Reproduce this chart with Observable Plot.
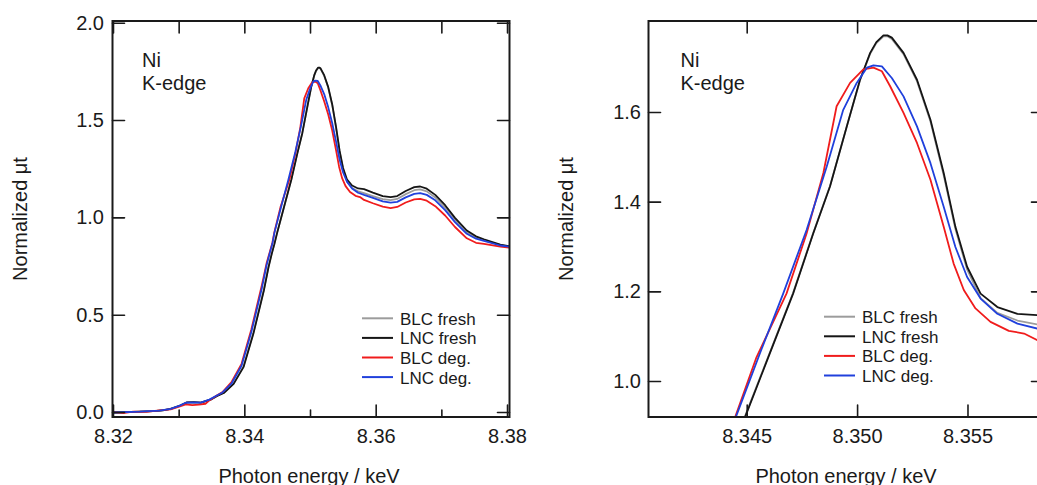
<!DOCTYPE html>
<html><head><meta charset="utf-8">
<script src="https://cdn.jsdelivr.net/npm/d3@7"></script>
<script src="https://cdn.jsdelivr.net/npm/@observablehq/plot@0.6"></script>
<style>
html,body{margin:0;padding:0;background:#fff;overflow:hidden;}
#wrap{position:relative;width:1037px;height:485px;overflow:hidden;}
#wrap svg{position:absolute;top:0;}
</style></head><body><div id="wrap"></div>
<script>
// ---------- data ----------
const seriesNames = ["BLC fresh", "LNC fresh", "BLC deg.", "LNC deg."];
const seriesColors = ["#9c9c9c", "#151515", "#f01c1c", "#2040dc"];

const lncFreshE = [8.3200, 8.3220, 8.3240, 8.3260, 8.3275, 8.3287, 8.3302, 8.3312, 8.3322, 8.3333, 8.3348, 8.3358, 8.3368, 8.3383, 8.3398, 8.3413, 8.3429, 8.3436, 8.3441, 8.3445, 8.34493, 8.34602, 8.34708, 8.34799, 8.34875, 8.34951, 8.35011, 8.35057, 8.35085, 8.35117, 8.35135, 8.35155, 8.35208, 8.35269, 8.3533, 8.3539, 8.35443, 8.35496, 8.35557, 8.35633, 8.35724, 8.35815, 8.3595, 8.3610, 8.3622, 8.3632, 8.3645, 8.3658, 8.3667, 8.3677, 8.3690, 8.3705, 8.3720, 8.3738, 8.3752, 8.3764, 8.3789, 8.3803];
const lncFreshMu = [0.000, 0.002, 0.004, 0.007, 0.011, 0.019, 0.036, 0.052, 0.053, 0.051, 0.066, 0.085, 0.100, 0.147, 0.233, 0.404, 0.627, 0.745, 0.815, 0.865, 0.924, 1.062, 1.196, 1.330, 1.435, 1.569, 1.673, 1.733, 1.757, 1.772, 1.772, 1.767, 1.733, 1.673, 1.584, 1.465, 1.345, 1.256, 1.196, 1.166, 1.151, 1.148, 1.130, 1.112, 1.106, 1.112, 1.138, 1.158, 1.161, 1.150, 1.118, 1.065, 1.000, 0.935, 0.905, 0.890, 0.862, 0.854];

const blcFreshE = [8.3200, 8.3220, 8.3240, 8.3260, 8.3275, 8.3287, 8.3302, 8.3312, 8.3322, 8.3333, 8.3348, 8.3358, 8.3368, 8.3383, 8.3398, 8.3413, 8.3429, 8.3436, 8.3441, 8.3445, 8.34493, 8.34602, 8.34708, 8.34799, 8.34875, 8.34951, 8.35011, 8.35057, 8.35085, 8.35117, 8.35135, 8.35155, 8.35208, 8.35269, 8.3533, 8.3539, 8.35443, 8.35496, 8.35557, 8.35633, 8.35724, 8.35815, 8.3595, 8.3610, 8.3622, 8.3632, 8.3645, 8.3658, 8.3667, 8.3677, 8.3690, 8.3705, 8.3720, 8.3738, 8.3752, 8.3764, 8.3789, 8.3803];
const blcFreshMu = [0.000, 0.002, 0.004, 0.007, 0.011, 0.019, 0.037, 0.052, 0.053, 0.051, 0.067, 0.087, 0.102, 0.150, 0.237, 0.410, 0.632, 0.750, 0.818, 0.867, 0.926, 1.064, 1.198, 1.331, 1.436, 1.569, 1.672, 1.731, 1.755, 1.770, 1.770, 1.764, 1.730, 1.670, 1.580, 1.460, 1.340, 1.250, 1.186, 1.153, 1.136, 1.127, 1.112, 1.096, 1.091, 1.097, 1.122, 1.142, 1.146, 1.136, 1.105, 1.053, 0.990, 0.926, 0.898, 0.885, 0.860, 0.853];

const blcDegE = [8.3200, 8.3215, 8.3230, 8.3250, 8.3270, 8.3287, 8.3300, 8.3310, 8.3320, 8.3330, 8.3340, 8.3346, 8.3356, 8.3366, 8.3380, 8.3395, 8.3410, 8.3426, 8.3433, 8.3438, 8.3442, 8.34448, 8.34542, 8.34678, 8.34769, 8.34845, 8.34905, 8.34966, 8.35026, 8.35072, 8.3511, 8.35148, 8.35208, 8.35269, 8.3533, 8.3539, 8.35435, 8.35481, 8.35534, 8.35602, 8.35685, 8.35754, 8.35815, 8.3595, 8.3610, 8.3622, 8.3632, 8.3645, 8.3658, 8.3667, 8.3677, 8.3690, 8.3705, 8.3720, 8.3738, 8.3752, 8.3764, 8.3789, 8.3803];
const blcDegMu = [0.002, -0.003, 0.005, 0.003, 0.011, 0.016, 0.030, 0.042, 0.038, 0.040, 0.045, 0.062, 0.085, 0.105, 0.158, 0.250, 0.428, 0.655, 0.765, 0.825, 0.872, 0.924, 1.054, 1.196, 1.330, 1.465, 1.614, 1.666, 1.696, 1.700, 1.692, 1.658, 1.599, 1.532, 1.450, 1.345, 1.263, 1.204, 1.163, 1.133, 1.113, 1.107, 1.092, 1.075, 1.058, 1.050, 1.056, 1.079, 1.095, 1.098, 1.088, 1.060, 1.012, 0.953, 0.895, 0.872, 0.866, 0.852, 0.847];

const lncDegE = [8.3200, 8.3240, 8.3270, 8.3287, 8.3300, 8.3310, 8.3322, 8.3333, 8.3346, 8.3356, 8.3366, 8.3380, 8.3395, 8.3410, 8.3426, 8.3433, 8.3438, 8.3442, 8.34451, 8.34557, 8.34663, 8.34769, 8.3486, 8.34935, 8.34996, 8.35042, 8.35072, 8.3511, 8.35155, 8.35208, 8.35269, 8.3533, 8.3539, 8.35443, 8.35496, 8.35557, 8.35633, 8.35724, 8.35815, 8.3595, 8.3610, 8.3622, 8.3632, 8.3645, 8.3658, 8.3667, 8.3677, 8.3690, 8.3705, 8.3720, 8.3738, 8.3752, 8.3764, 8.3789, 8.3803];
const lncDegMu = [0.000, 0.004, 0.010, 0.019, 0.034, 0.050, 0.052, 0.051, 0.066, 0.085, 0.103, 0.150, 0.240, 0.415, 0.640, 0.755, 0.820, 0.868, 0.924, 1.062, 1.196, 1.338, 1.479, 1.606, 1.666, 1.700, 1.705, 1.703, 1.677, 1.636, 1.569, 1.487, 1.390, 1.300, 1.233, 1.185, 1.151, 1.129, 1.118, 1.103, 1.085, 1.078, 1.082, 1.105, 1.123, 1.127, 1.118, 1.090, 1.040, 0.978, 0.918, 0.893, 0.882, 0.858, 0.852];

// axis ticks
const leftXMajor = [8.32, 8.34, 8.36, 8.38];
const leftXMinor = [8.33, 8.35, 8.37];
const leftXTop = [8.32, 8.33, 8.34, 8.35, 8.36, 8.37, 8.38];
const leftYTicks = [0, 0.5, 1.0, 1.5, 2.0];
const rightXTicks = [8.345, 8.350, 8.355];
const rightYTicks = [1.0, 1.2, 1.4, 1.6];

const annotation = "Ni\nK-edge";
const xTitle = "Photon energy / keV";
const yTitle = "Normalized μt";

// ---------- build table ----------
const seriesData = [
  [seriesNames[0], blcFreshE, blcFreshMu],
  [seriesNames[1], lncFreshE, lncFreshMu],
  [seriesNames[2], blcDegE, blcDegMu],
  [seriesNames[3], lncDegE, lncDegMu]
];
const rows = seriesData.flatMap(([series, E, M]) => E.map((e, i) => ({series, E: e, mu: M[i]})));

const FONT = "'Liberation Sans', Arial, Helvetica, sans-serif";
const INK = "#1a1a1a";

// inward tick shapes (drawn from the frame edge into the plot)
const tickUp = {draw(c, l) { c.moveTo(0, 0); c.lineTo(0, -l); }};
const tickDown = {draw(c, l) { c.moveTo(0, 0); c.lineTo(0, l); }};
const tickRight = {draw(c, l) { c.moveTo(0, 0); c.lineTo(l, 0); }};
const tickLeft = {draw(c, l) { c.moveTo(0, 0); c.lineTo(-l, 0); }};
const tickStyle = {stroke: INK, strokeWidth: 1.6, anchor: "start", rotate: 0};

function panel(o) {
  const st = {fill: INK, fontSize: 20, label: null};
  return Plot.plot({
    width: o.width, height: 485,
    marginLeft: o.marginLeft, marginRight: o.marginRight, marginTop: 20.5, marginBottom: 68.5,
    style: {fontFamily: FONT, fontSize: "20px", color: INK, background: "transparent", overflow: "visible"},
    x: {domain: o.xDomain, axis: null},
    y: {domain: o.yDomain, axis: null},
    color: {domain: seriesNames, range: seriesColors},
    marks: [
      Plot.line(rows, {x: "E", y: "mu", z: "series", stroke: "series", strokeWidth: 1.8, clip: true}),
      // inward tick marks
      Plot.vector(o.xMajor, {...tickStyle, x: d => d, frameAnchor: "bottom", length: 12, shape: tickUp}),
      ...(o.xMinor ? [Plot.vector(o.xMinor, {...tickStyle, x: d => d, frameAnchor: "bottom", length: 7, shape: tickUp})] : []),
      Plot.vector(o.xTop, {...tickStyle, x: d => d, frameAnchor: "top", length: 12, shape: tickDown}),
      Plot.vector(o.yTicks, {...tickStyle, y: d => d, frameAnchor: "left", length: 12, shape: tickRight}),
      Plot.vector(o.yTicks, {...tickStyle, y: d => d, frameAnchor: "right", length: 12, shape: tickLeft}),
      // tick labels
      Plot.axisX({...st, anchor: "bottom", ticks: o.xMajor, tickSize: 0, tickPadding: 12, tickFormat: o.xFmt}),
      Plot.axisY({...st, anchor: "left", ticks: o.yTicks, tickSize: 0, tickPadding: o.yPad, tickFormat: d3.format(".1f")}),
      Plot.frame({stroke: INK, strokeWidth: 2}),
      Plot.text([annotation], {text: d => d, frameAnchor: "top-left", dx: o.noteDx, dy: 29.5, lineAnchor: "top", textAnchor: "start", lineHeight: 1.15, fontSize: 20, fill: INK}),
      Plot.text([yTitle], {text: d => d, frameAnchor: "left", dx: o.yTitleDx, rotate: -90, lineAnchor: "top", textAnchor: "middle", fontSize: 20, fill: INK}),
      Plot.text([xTitle], {text: d => d, frameAnchor: "bottom", dx: o.xTitleDx, dy: 66, lineAnchor: "bottom", textAnchor: "middle", fontSize: 20, fill: INK})
    ]
  });
}

function addLegend(svg, x0, y0) {
  const g = d3.select(svg).append("g")
    .attr("font-family", FONT).attr("font-size", 17).attr("fill", INK)
    .attr("text-anchor", "start");
  seriesNames.forEach((name, i) => {
    const y = y0 + i * 19.6;
    g.append("line").attr("x1", x0).attr("x2", x0 + 31).attr("y1", y).attr("y2", y)
      .attr("stroke", seriesColors[i]).attr("stroke-width", 2);
    g.append("text").attr("x", x0 + 38).attr("y", y).attr("dy", "0.38em")
      .attr("text-anchor", "start").text(name);
  });
}

const wrap = document.getElementById("wrap");

const left = panel({
  width: 530, marginLeft: 112, marginRight: 21,
  xDomain: [8.31985, 8.3803], yDomain: [-0.0231, 2.0113],
  xMajor: leftXMajor, xMinor: leftXMinor, xTop: leftXTop, yTicks: leftYTicks,
  xFmt: d3.format(".2f"), yPad: 8.5,
  noteDx: 29.5, yTitleDx: -100, xTitleDx: -2
});
left.style.left = "0px";
addLegend(left, 362, 318.3);
wrap.appendChild(left);

const right = panel({
  width: 530, marginLeft: 118, marginRight: 17,
  xDomain: [8.34053, 8.35842], yDomain: [0.9208, 1.8041],
  xMajor: rightXTicks, xMinor: null, xTop: rightXTicks, yTicks: rightYTicks,
  xFmt: d3.format(".3f"), yPad: 7.5,
  noteDx: 32, yTitleDx: -89.7, xTitleDx: 0
});
right.style.left = "530px";
addLegend(right, 294, 316.7);
wrap.appendChild(right);
</script></body></html>
